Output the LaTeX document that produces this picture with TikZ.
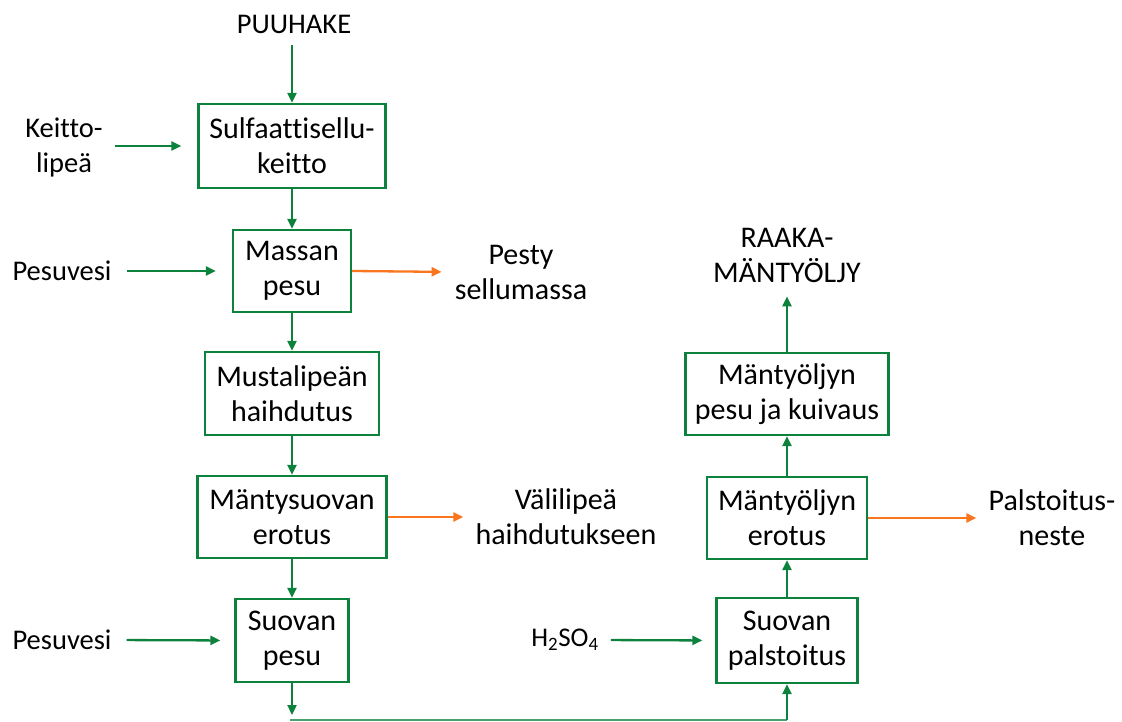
\documentclass[tikz,border=0pt]{standalone}
\usepackage{fontspec}
\setmainfont{Carlito}[Ligatures={NoCommon}]
\usetikzlibrary{arrows.meta}
\definecolor{fgreen}{RGB}{12,130,60}
\definecolor{forange}{RGB}{250,118,30}
\begin{document}
\begin{tikzpicture}[x=1pt,y=-1pt,
  every node/.style={font=\fontsize{30}{35}\selectfont, align=center, inner sep=0pt, text=black},
  small/.style={font=\fontsize{28.5}{35}\selectfont},
  box/.style={draw=fgreen, line width=2.3pt},
  flow/.style={draw=fgreen, line width=2.3pt, -{Triangle[length=10pt,width=9pt]}},
  outflow/.style={draw=forange, line width=2.3pt, -{Triangle[length=10pt,width=9pt]}},
]
\useasboundingbox (0,0) rectangle (1122,722);
% boxes
\node[box, minimum width=187pt, minimum height=84pt] (b1) at (292,146) {Sulfaattisellu-\\keitto};
\node[box, minimum width=118pt, minimum height=82pt] (b2) at (292,271) {Massan\\pesu};
\node[box, minimum width=174pt, minimum height=83pt] (b3) at (292,393.5) {Mustalipeän\\haihdutus};
\node[box, minimum width=189pt, minimum height=82pt] (b4) at (292,517) {Mäntysuovan\\erotus};
\node[box, minimum width=113pt, minimum height=83pt] (b5) at (292,640.5) {Suovan\\pesu};
\node[box, minimum width=141pt, minimum height=85pt] (b6) at (787,640.5) {Suovan\\palstoitus};
\node[box, minimum width=160pt, minimum height=82pt] (b7) at (787,518) {Mäntyöljyn\\erotus};
\node[box, minimum width=203pt, minimum height=82pt] (b8) at (787,394) {Mäntyöljyn\\pesu ja kuivaus};
% labels
\node[small] (puuhake) at (294,24) {PUUHAKE};
\node[small] (keitto) at (64,147) {Keitto-\\lipeä};
\node[small] (pesuvesi1) at (62,271) {Pesuvesi};
\node (pesty) at (521,272) {Pesty\\sellumassa};
\node (vali) at (566,517) {Välilipeä\\haihdutukseen};
\node[small] (pesuvesi2) at (62,640) {Pesuvesi};
\node[font=\fontsize{27}{35}\selectfont] (h2so4) at (565,640) {H\textsubscript{2}SO\textsubscript{4}};
\node (palst) at (1052,518) {Palstoitus-\\neste};
\node (raaka) at (787,255) {RAAKA-\\MÄNTYÖLJY};
% coordinates of the bottom connector
\coordinate (c0) at (292,715);
\coordinate (c1) at (290,720);
\coordinate (c2) at (787,720);
% main column
\draw[flow, shorten <=12pt] (puuhake.south -| b1.north) -- (b1.north);
\draw[flow] (b1.south) -- (b2.north);
\draw[flow] (b2.south) -- (b3.north);
\draw[flow] (b3.south) -- (b4.north);
\draw[flow] (b4.south) -- (b5.north);
\draw[flow] (b5.south) -- (c0);
\draw[fgreen!75, line width=1.3pt] (c1) -- (c2);
\draw[flow] (c2) -- (b6.south);
\draw[flow] (b6.north) -- (b7.south);
\draw[flow] (b7.north) -- (b8.south);
\draw[flow, shorten >=14pt] (b8.north) -- (raaka.south);
% side inputs
\draw[flow, shorten <=12pt, shorten >=16pt] (keitto.east |- b1.west) -- (b1.west);
\draw[flow, shorten <=15pt, shorten >=16pt] (pesuvesi1.east) -- (b2.west);
\draw[flow, shorten <=15pt, shorten >=14pt] (pesuvesi2.east) -- (b5.west);
\draw[flow, shorten <=12pt, shorten >=13pt] (h2so4.east) -- (b6.west);
% outputs
\draw[outflow, shorten >=13pt] (b2.east) -- (pesty.west);
\draw[outflow, shorten >=12pt] (b4.east) -- (vali.west);
\draw[outflow, shorten >=12pt] (b7.east) -- (palst.west);
\end{tikzpicture}
\end{document}
